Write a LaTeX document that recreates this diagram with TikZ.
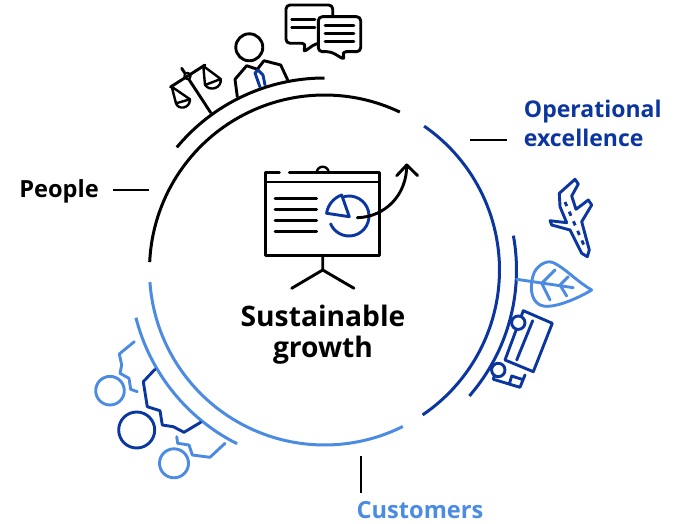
\documentclass[tikz,border=0pt]{standalone}
\usepackage{fontspec}
\setmainfont{Open Sans}
\usetikzlibrary{arrows}
\definecolor{darkblue}{HTML}{0B36A0}
\definecolor{lightblue}{HTML}{4C8BE2}
\begin{document}
\begin{tikzpicture}
	[x=1pt,y=1pt,yscale=-1,line join=round,line cap=round,line width=2.9pt,
	 ring/.style={line width=3pt,line cap=butt},
	 lead/.style={line width=1.2pt,line cap=butt},
	 title/.style={font=\bfseries\fontsize{23.6}{26}\selectfont,inner sep=0pt,align=left}]
	\useasboundingbox (0,0) rectangle (683,524);
	\coordinate (c) at (324.5,270);

	% rings
	\draw[ring] (c) ++(182.6:175) arc[start angle=182.6,end angle=295.5,radius=175];
	\draw[ring,darkblue] (c) ++(-55.3:175) arc[start angle=-55.3,end angle=55.9,radius=175];
	\draw[ring,lightblue] (c) ++(63.4:175) arc[start angle=63.4,end angle=176,radius=175];
	\draw[ring] (c) ++(270:192) arc[start angle=270,end angle=219.7,radius=192];
	\draw[ring,darkblue] (c) ++(-10.3:192) arc[start angle=-10.3,end angle=41,radius=192];
	\draw[ring,lightblue] (c) ++(165.8:194.5) arc[start angle=165.8,end angle=116.7,radius=194.5];

	% labels
	\node[title] (people) at (59,191.5) {People};
	\node[title,darkblue,anchor=west,font=\bfseries\fontsize{23}{29}\selectfont] (opx) at (522.5,123.5) {Operational\\excellence};
	\node[title,lightblue] (customers) at (420,510.5) {Customers};
	\node[title,black,align=center,font=\bfseries\fontsize{28.2}{31}\selectfont] (growth) at (323,334.5) {Sustainable\\growth};
	\coordinate (peopleend) at (149,190);
	\coordinate (opxstart) at (470,140);
	\coordinate (custstart) at (361,456);
	\draw[lead] (people.east |- peopleend) ++(13,0) -- (peopleend);
	\draw[lead] (opxstart) -- +(37,0);
	\draw[lead] (custstart) -- +(0,37);

	% board
	\draw (279.3,172.7) -- (265.7,172.7) -- (265.7,255.3) -- (379.3,255.3) -- (379.3,172.7) -- (289.3,172.7);
	\draw[line width=2pt] (265.7,181.7) -- (379.3,181.7);
	\draw[line width=2.4pt] (316.7,172.7) arc[start angle=180,end angle=360,radius=6];
	\draw (322.7,255.3) -- (322.7,270) -- (291.7,288.3);
	\draw (322.7,270) -- (354,288.3);
	\foreach \y in {198.3,209.3,220.3,231.3}
		\draw (275,\y) -- (316.7,\y);
	\draw[darkblue] (349,216) ++(-104:20) arc[start angle=-104,end angle=157,radius=20];
	\draw[darkblue] (349.3,216.7) -- (341.7,195) arc[start angle=250.7,end angle=188.6,radius=23] -- cycle;
	\draw (357.3,217.7) .. controls (385,217) and (407,195) .. (406.7,165);
	\draw (396.7,175.7) -- (406.7,165) -- (417.7,175.7);

	% people icons
	\draw (249.3,47.3) circle (13.5);
	\draw (237.3,96.7) -- (235,79.3) -- (246.7,65.7) -- (257.3,69.3) -- (264,60.7) -- (280.7,65) -- (287.7,80);
	\draw[darkblue] (260,87) -- (255,73) -- (258,70) -- (263,75) -- (265,85);
	\draw (210.7,112.7) -- (181.7,68.3);
	\draw[fill=white,line width=2pt] (187.5,76) circle (3.2);
	\draw (170.5,87) -- (205,65);
	\draw[line width=2.4pt] (176,103.3) -- (171.7,86.7) -- (190,99.3) -- (176,103.3) .. controls (178,110) and (190,109) .. (190,99.3);
	\draw[line width=2.4pt] (205,85) -- (203.3,66) -- (220.7,79) -- (205,85) .. controls (210,92) and (222,88) .. (220.7,79);
	\draw[rounded corners=4pt,fill=white] (286,5) -- (332.7,5) -- (332.7,43.3) -- (316,43.3) -- (303,52.5) -- (306,43.3) -- (286,43.3) -- cycle;
	\draw (291.7,19.3) -- (315,19.3);
	\draw (291.7,27.3) -- (315,27.3);
	\draw[rounded corners=4pt,fill=white] (318.3,16.7) -- (360.7,16.7) -- (360.7,51.7) -- (342,51.7) -- (345,60) -- (331,51.7) -- (318.3,51.7) -- cycle;
	\foreach \y in {25.7,33.3,41.7}
		\draw (325,\y) -- (354,\y);

	% plane
	\begin{scope}[darkblue]
	\draw (559.3,193.3) -- (575,179.3) -- (578.3,184) -- (571.7,196) -- (576,209.3) -- (588.3,200) -- (591.7,205) -- (581.7,221.7) -- (589.3,250) -- (587.3,256.7) -- (581.7,253.3) -- (570,230) -- (551.7,225) -- (550,220.7) -- (566.7,222.7) -- (560,206.7) -- cycle;
	\draw[line cap=butt,dash pattern=on 4.5pt off 6pt] (565,202) -- (586,250);
	\end{scope}

	% leaf
	\begin{scope}[lightblue]
	\draw (591.7,290) .. controls (575,280) and (565,268) .. (553.3,262.7) .. controls (545,259) and (535,268) .. (533.3,275) .. controls (530,285) and (530,300) .. (540,305) .. controls (550,310) and (575,300) .. (591.7,290) -- cycle;
	\draw (516.7,279.3) -- (573.3,287.7);
	\draw (555,270) -- (541.7,283.3) -- (550,300);
	\draw (568.3,276.7) -- (560,285) -- (566.7,296);
	\end{scope}

	% truck
	\begin{scope}[darkblue]
	\draw (523.3,310.7) -- (552.3,323.3) -- (533.3,371.7) -- (505,360) -- cycle;
	\draw (532.7,320.7) -- (516.7,360);
	\draw (497,366) -- (493.3,379.3) -- (520,387.3) -- (525,375);
	\draw (509.3,384) -- (511.7,376) -- (522.5,379.5);
	\draw[fill=white] (518.3,322.7) circle (6.7);
	\draw[fill=white] (498.3,370) circle (6.7);
	\end{scope}

	% gears
	\begin{scope}[lightblue]
	\draw (110,390.7) circle (14.3);
	\draw (134.3,341.7) -- (119.3,354) -- (121.7,365) -- (120,373.3) -- (129,378.3) -- (130.7,389.3) -- (137.3,391.7);
	\draw (174,463.3) circle (14.5);
	\draw (176.7,436.7) -- (177.7,443.3) -- (189,445) -- (192.3,455) -- (210,457.3) -- (225,443.3);
	\end{scope}
	\draw[darkblue] (136.7,430) circle (18);
	\draw[darkblue] (155,369.3) -- (143.3,381.7) -- (147.3,406.7) -- (160,410.7) -- (162.3,425) -- (173.3,426.7) -- (184,432.3) -- (200.7,422.3);
\end{tikzpicture}
\end{document}
